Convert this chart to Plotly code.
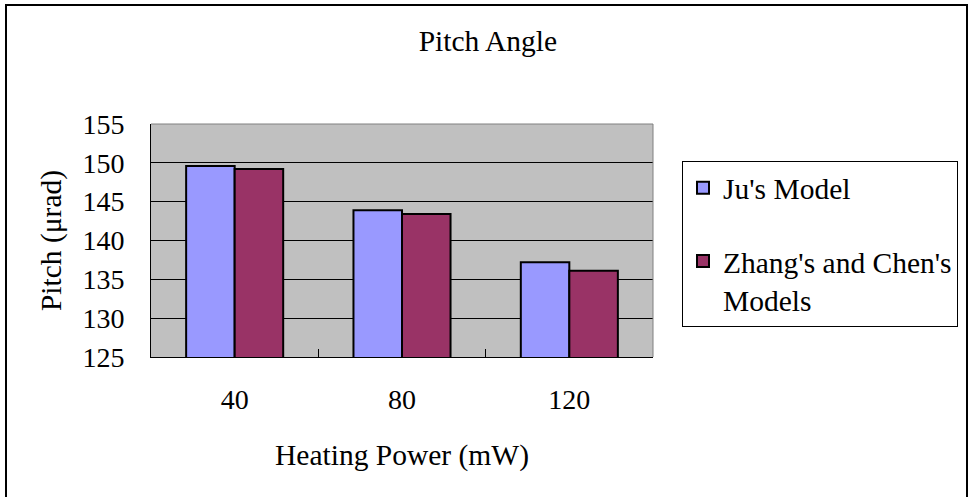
import plotly.graph_objects as go

categories = ["40", "80", "120"]
ju_model = [149.6, 143.9, 137.2]
zhang_chen = [149.2, 143.4, 136.1]
series_names = ["Ju's Model", "Zhang's and Chen's<br>Models"]
y_ticks = [125, 130, 135, 140, 145, 150, 155]

W, H = 970, 497
L, R, T, B = 151, 317, 124, 140
PW, PH = W - L - R, H - T - B

def px_x(p):
    return (p - L) / PW

def px_y(p):
    return (H - B - p) / PH

FONT = "Liberation Serif, Times New Roman, serif"
BIG = 29.5

fig = go.Figure()
fig.add_trace(go.Bar(
    x=categories, y=ju_model, name=series_names[0], legendgroup="a",
    marker=dict(color="#9999FF", line=dict(color="black", width=2)),
))
fig.add_trace(go.Bar(
    x=categories, y=zhang_chen, name=series_names[1], legendgroup="b",
    marker=dict(color="#993366", line=dict(color="black", width=2)),
))

fig.update_layout(
    width=W, height=H,
    margin=dict(l=L, r=R, t=T, b=B),
    paper_bgcolor="white",
    plot_bgcolor="#C0C0C0",
    font=dict(family=FONT, size=28, color="black"),
    barmode="group", bargap=0.42, bargroupgap=0,
    title=dict(text="Pitch Angle", x=0.503, xref="container", xanchor="center",
               y=1 - 41 / H, yref="container", yanchor="middle",
               font=dict(family=FONT, size=BIG, color="black")),
    showlegend=True,
    legend=dict(x=px_x(682), y=px_y(161), xanchor="left", yanchor="top",
                bgcolor="white", bordercolor="black", borderwidth=1,
                font=dict(family=FONT, size=BIG, color="black"),
                tracegroupgap=32, valign="top", traceorder="grouped"),
    xaxis=dict(type="category", showline=True, linecolor="black", linewidth=1,
               ticks="inside", ticklen=8, tickcolor="black", tickson="boundaries",
               ticklabelstandoff=17, showgrid=False,
               title=dict(text="Heating Power (mW)", standoff=30,
                          font=dict(family=FONT, size=BIG))),
    yaxis=dict(range=[125, 155], tickvals=y_ticks, showline=True, linecolor="black",
               linewidth=1, ticks="inside", ticklen=8, tickcolor="black",
               showgrid=True, gridcolor="black", gridwidth=1,
               ticklabelstandoff=20, zeroline=False,
               title=dict(text="Pitch (μrad)", standoff=12,
                          font=dict(family=FONT, size=BIG))),
)

fig.add_shape(type="line", xref="paper", yref="paper", x0=0, x1=1, y0=1, y1=1,
              line=dict(color="#808080", width=1))
fig.add_shape(type="line", xref="paper", yref="paper", x0=1, x1=1, y0=0, y1=1,
              line=dict(color="#808080", width=1))
fig.add_shape(type="rect", xref="paper", yref="paper",
              x0=px_x(6), x1=px_x(967), y0=px_y(5), y1=px_y(520),
              line=dict(color="black", width=2), layer="below")

fig.write_html("out.html")
